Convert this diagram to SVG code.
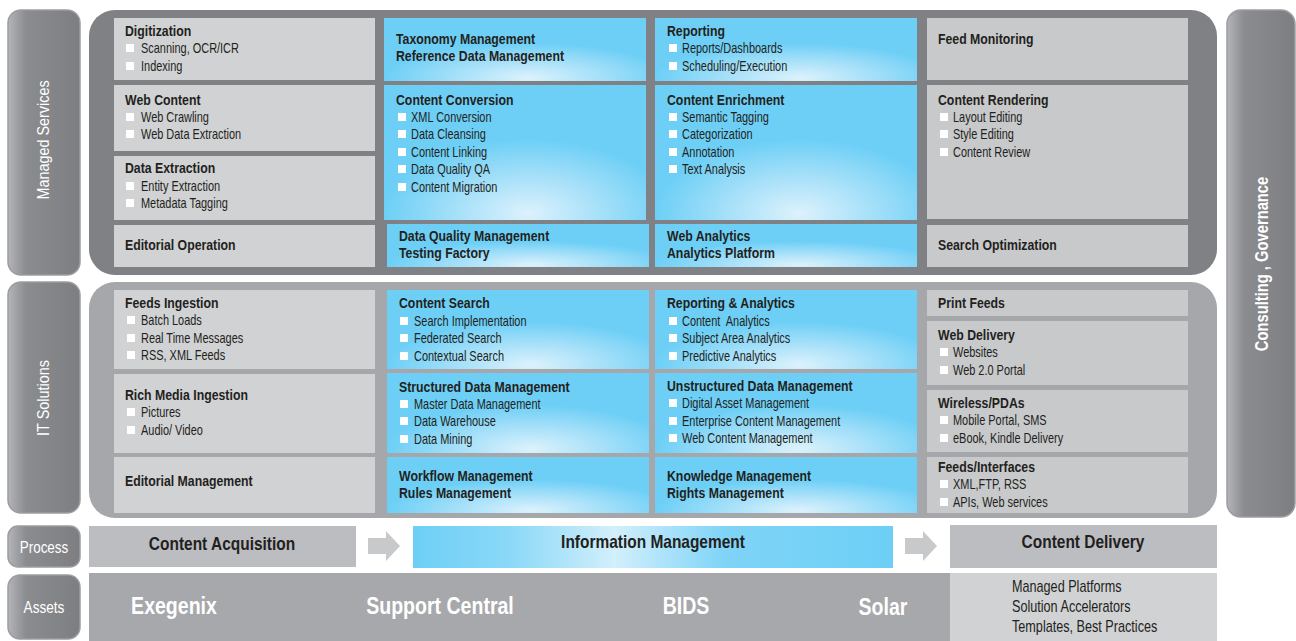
<svg xmlns="http://www.w3.org/2000/svg" width="1296" height="641" viewBox="0 0 1296 641">
<style>
text{font-family:"Liberation Sans",Arial,sans-serif;fill:#231f20}
.h{font-size:15px;font-weight:bold}
.i{font-size:15px}
.g1{fill:#d1d2d4}
.g4{fill:#c8c9cb}
.bl{fill:url(#blue)}
.b{fill:#ffffff}
.lab{fill:#ffffff;font-size:16px}
.asset{fill:#ffffff;font-size:23px;font-weight:bold}
.proc{font-size:18px;font-weight:bold}
.plat{font-size:16px}
.pill{fill:url(#pillg);stroke:#9c9da0;stroke-width:1.5}
.arrow{fill:#c8c9cb}
</style>
<defs>
<radialGradient id="blue" cx="0.55" cy="0.95" r="0.55">
<stop offset="0" stop-color="#dcf2fc"/>
<stop offset="0.5" stop-color="#a6e0f9"/>
<stop offset="1" stop-color="#6dcff6"/>
</radialGradient>
<linearGradient id="pillg" x1="0" y1="0" x2="1" y2="0">
<stop offset="0" stop-color="#b4b5b8"/>
<stop offset="0.25" stop-color="#8b8c8f"/>
<stop offset="1" stop-color="#7d7e81"/>
</linearGradient>
<linearGradient id="infog" x1="0" y1="0" x2="1" y2="0">
<stop offset="0" stop-color="#6dcff6"/>
<stop offset="0.2" stop-color="#8ad8f7"/>
<stop offset="0.42" stop-color="#d2effc"/>
<stop offset="0.65" stop-color="#7fd4f7"/>
<stop offset="1" stop-color="#6dcff6"/>
</linearGradient>
</defs>

<!-- side labels -->
<g id="label-managed"><rect class="pill" x="8" y="10" width="72" height="265" rx="13"/>
<text class="lab" transform="translate(49,140) rotate(-90) scale(0.9,1)" text-anchor="middle">Managed Services</text></g>
<g id="label-it"><rect class="pill" x="8" y="282" width="72" height="231" rx="13"/>
<text class="lab" transform="translate(49,398) rotate(-90) scale(0.9,1)" text-anchor="middle">IT Solutions</text></g>
<g id="label-process"><rect class="pill" x="8" y="526" width="72" height="41" rx="10"/>
<text class="lab" transform="translate(44,553) scale(0.84,1)" text-anchor="middle">Process</text></g>
<g id="label-assets"><rect class="pill" x="8" y="575" width="72" height="64" rx="12"/>
<text class="lab" transform="translate(44,613) scale(0.85,1)" text-anchor="middle">Assets</text></g>
<g id="label-consulting"><rect class="pill" x="1227" y="10" width="68" height="507" rx="14"/>
<text class="lab" transform="translate(1268,264) rotate(-90) scale(0.82,1)" text-anchor="middle" style="font-size:18px;font-weight:bold">Consulting , Governance</text></g>

<!-- panels -->
<g id="panel-managed"><rect x="89" y="10" width="1128" height="265" rx="26" fill="#808184"/></g>
<g id="panel-it"><rect x="89" y="282" width="1128" height="236" rx="26" fill="#a6a7aa"/></g>

<!-- Managed services column 1 -->
<g id="ms-digitization"><rect class="g1" x="114" y="18" width="261" height="62"/>
<text class="h" transform="translate(125,36) scale(0.82,1)">Digitization</text>
<rect class="b" x="126" y="44" width="8" height="8"/><text class="i" transform="translate(141,53) scale(0.73,1)">Scanning, OCR/ICR</text>
<rect class="b" x="126" y="62" width="8" height="8"/><text class="i" transform="translate(141,71) scale(0.73,1)">Indexing</text></g>
<g id="ms-webcontent"><rect class="g1" x="114" y="85" width="261" height="66"/>
<text class="h" transform="translate(125,105) scale(0.82,1)">Web Content</text>
<rect class="b" x="126" y="113" width="8" height="8"/><text class="i" transform="translate(141,122) scale(0.73,1)">Web Crawling</text>
<rect class="b" x="126" y="130" width="8" height="8"/><text class="i" transform="translate(141,139) scale(0.73,1)">Web Data Extraction</text></g>
<g id="ms-dataextraction"><rect class="g1" x="114" y="156" width="261" height="64"/>
<text class="h" transform="translate(125,173) scale(0.82,1)">Data Extraction</text>
<rect class="b" x="126" y="182" width="8" height="8"/><text class="i" transform="translate(141,191) scale(0.73,1)">Entity Extraction</text>
<rect class="b" x="126" y="199" width="8" height="8"/><text class="i" transform="translate(141,208) scale(0.73,1)">Metadata Tagging</text></g>
<g id="ms-editorial"><rect class="g1" x="114" y="225" width="261" height="42"/>
<text class="h" transform="translate(125,250) scale(0.82,1)">Editorial Operation</text></g>

<!-- Managed services column 2 -->
<g id="ms-taxonomy"><rect class="bl" x="384" y="18" width="262" height="63"/>
<text class="h" transform="translate(396,44) scale(0.82,1)">Taxonomy Management</text>
<text class="h" transform="translate(396,61) scale(0.82,1)">Reference Data Management</text></g>
<g id="ms-conversion"><rect class="bl" x="384" y="85" width="262" height="135"/>
<text class="h" transform="translate(396,105) scale(0.82,1)">Content Conversion</text>
<rect class="b" x="398" y="113" width="8" height="8"/><text class="i" transform="translate(411,122) scale(0.73,1)">XML Conversion</text>
<rect class="b" x="398" y="130" width="8" height="8"/><text class="i" transform="translate(411,139) scale(0.73,1)">Data Cleansing</text>
<rect class="b" x="398" y="148" width="8" height="8"/><text class="i" transform="translate(411,157) scale(0.73,1)">Content Linking</text>
<rect class="b" x="398" y="165" width="8" height="8"/><text class="i" transform="translate(411,174) scale(0.73,1)">Data Quality QA</text>
<rect class="b" x="398" y="183" width="8" height="8"/><text class="i" transform="translate(411,192) scale(0.73,1)">Content Migration</text></g>
<g id="ms-dataquality"><rect class="bl" x="387" y="224" width="262" height="43"/>
<text class="h" transform="translate(399,241) scale(0.82,1)">Data Quality Management</text>
<text class="h" transform="translate(399,258) scale(0.82,1)">Testing Factory</text></g>

<!-- Managed services column 3 -->
<g id="ms-reporting"><rect class="bl" x="655" y="18" width="262" height="63"/>
<text class="h" transform="translate(667,36) scale(0.82,1)">Reporting</text>
<rect class="b" x="669" y="44" width="8" height="8"/><text class="i" transform="translate(682,53) scale(0.73,1)">Reports/Dashboards</text>
<rect class="b" x="669" y="62" width="8" height="8"/><text class="i" transform="translate(682,71) scale(0.73,1)">Scheduling/Execution</text></g>
<g id="ms-enrichment"><rect class="bl" x="655" y="85" width="262" height="135"/>
<text class="h" transform="translate(667,105) scale(0.82,1)">Content Enrichment</text>
<rect class="b" x="669" y="113" width="8" height="8"/><text class="i" transform="translate(682,122) scale(0.73,1)">Semantic Tagging</text>
<rect class="b" x="669" y="130" width="8" height="8"/><text class="i" transform="translate(682,139) scale(0.73,1)">Categorization</text>
<rect class="b" x="669" y="148" width="8" height="8"/><text class="i" transform="translate(682,157) scale(0.73,1)">Annotation</text>
<rect class="b" x="669" y="165" width="8" height="8"/><text class="i" transform="translate(682,174) scale(0.73,1)">Text Analysis</text></g>
<g id="ms-webanalytics"><rect class="bl" x="655" y="224" width="262" height="43"/>
<text class="h" transform="translate(667,241) scale(0.82,1)">Web Analytics</text>
<text class="h" transform="translate(667,258) scale(0.82,1)">Analytics Platform</text></g>

<!-- Managed services column 4 -->
<g id="ms-feedmonitoring"><rect class="g4" x="927" y="18" width="261" height="62"/>
<text class="h" transform="translate(938,44) scale(0.82,1)">Feed Monitoring</text></g>
<g id="ms-rendering"><rect class="g4" x="927" y="85" width="261" height="134"/>
<text class="h" transform="translate(938,105) scale(0.82,1)">Content Rendering</text>
<rect class="b" x="940" y="113" width="8" height="8"/><text class="i" transform="translate(953,122) scale(0.73,1)">Layout Editing</text>
<rect class="b" x="940" y="130" width="8" height="8"/><text class="i" transform="translate(953,139) scale(0.73,1)">Style Editing</text>
<rect class="b" x="940" y="148" width="8" height="8"/><text class="i" transform="translate(953,157) scale(0.73,1)">Content Review</text></g>
<g id="ms-searchopt"><rect class="g4" x="927" y="225" width="261" height="42"/>
<text class="h" transform="translate(938,250) scale(0.82,1)">Search Optimization</text></g>

<!-- IT solutions column 1 -->
<g id="it-feeds"><rect class="g1" x="114" y="290" width="261" height="79"/>
<text class="h" transform="translate(125,308) scale(0.82,1)">Feeds Ingestion</text>
<rect class="b" x="127" y="316" width="8" height="8"/><text class="i" transform="translate(141,325) scale(0.73,1)">Batch Loads</text>
<rect class="b" x="127" y="334" width="8" height="8"/><text class="i" transform="translate(141,343) scale(0.73,1)">Real Time Messages</text>
<rect class="b" x="127" y="351" width="8" height="8"/><text class="i" transform="translate(141,360) scale(0.73,1)">RSS, XML Feeds</text></g>
<g id="it-richmedia"><rect class="g1" x="114" y="374" width="261" height="79"/>
<text class="h" transform="translate(125,400) scale(0.82,1)">Rich Media Ingestion</text>
<rect class="b" x="127" y="408" width="8" height="8"/><text class="i" transform="translate(141,417) scale(0.73,1)">Pictures</text>
<rect class="b" x="127" y="426" width="8" height="8"/><text class="i" transform="translate(141,435) scale(0.73,1)">Audio/ Video</text></g>
<g id="it-editorial"><rect class="g1" x="114" y="457" width="261" height="56"/>
<text class="h" transform="translate(125,486) scale(0.82,1)">Editorial Management</text></g>

<!-- IT solutions column 2 -->
<g id="it-search"><rect class="bl" x="387" y="290" width="262" height="79"/>
<text class="h" transform="translate(399,308) scale(0.82,1)">Content Search</text>
<rect class="b" x="400" y="317" width="8" height="8"/><text class="i" transform="translate(414,326) scale(0.73,1)">Search Implementation</text>
<rect class="b" x="400" y="334" width="8" height="8"/><text class="i" transform="translate(414,343) scale(0.73,1)">Federated Search</text>
<rect class="b" x="400" y="352" width="8" height="8"/><text class="i" transform="translate(414,361) scale(0.73,1)">Contextual Search</text></g>
<g id="it-structured"><rect class="bl" x="387" y="373" width="262" height="80"/>
<text class="h" transform="translate(399,392) scale(0.82,1)">Structured Data Management</text>
<rect class="b" x="400" y="400" width="8" height="8"/><text class="i" transform="translate(414,409) scale(0.73,1)">Master Data Management</text>
<rect class="b" x="400" y="417" width="8" height="8"/><text class="i" transform="translate(414,426) scale(0.73,1)">Data Warehouse</text>
<rect class="b" x="400" y="435" width="8" height="8"/><text class="i" transform="translate(414,444) scale(0.73,1)">Data Mining</text></g>
<g id="it-workflow"><rect class="bl" x="387" y="457" width="262" height="56"/>
<text class="h" transform="translate(399,481) scale(0.82,1)">Workflow Management</text>
<text class="h" transform="translate(399,498) scale(0.82,1)">Rules Management</text></g>

<!-- IT solutions column 3 -->
<g id="it-reporting"><rect class="bl" x="655" y="290" width="262" height="79"/>
<text class="h" transform="translate(667,308) scale(0.82,1)">Reporting &amp; Analytics</text>
<rect class="b" x="669" y="317" width="8" height="8"/><text class="i" transform="translate(682,326) scale(0.73,1)" xml:space="preserve">Content  Analytics</text>
<rect class="b" x="669" y="334" width="8" height="8"/><text class="i" transform="translate(682,343) scale(0.73,1)">Subject Area Analytics</text>
<rect class="b" x="669" y="352" width="8" height="8"/><text class="i" transform="translate(682,361) scale(0.73,1)">Predictive Analytics</text></g>
<g id="it-unstructured"><rect class="bl" x="655" y="373" width="262" height="80"/>
<text class="h" transform="translate(667,391) scale(0.82,1)">Unstructured Data Management</text>
<rect class="b" x="669" y="399" width="8" height="8"/><text class="i" transform="translate(682,408) scale(0.73,1)">Digital Asset Management</text>
<rect class="b" x="669" y="417" width="8" height="8"/><text class="i" transform="translate(682,426) scale(0.73,1)">Enterprise Content Management</text>
<rect class="b" x="669" y="434" width="8" height="8"/><text class="i" transform="translate(682,443) scale(0.73,1)">Web Content Management</text></g>
<g id="it-knowledge"><rect class="bl" x="655" y="457" width="262" height="56"/>
<text class="h" transform="translate(667,481) scale(0.82,1)">Knowledge Management</text>
<text class="h" transform="translate(667,498) scale(0.82,1)">Rights Management</text></g>

<!-- IT solutions column 4 -->
<g id="it-print"><rect class="g4" x="927" y="290" width="261" height="26"/>
<text class="h" transform="translate(938,308) scale(0.82,1)">Print Feeds</text></g>
<g id="it-web"><rect class="g4" x="927" y="321" width="261" height="64"/>
<text class="h" transform="translate(938,340) scale(0.82,1)">Web Delivery</text>
<rect class="b" x="940" y="348" width="8" height="8"/><text class="i" transform="translate(953,357) scale(0.73,1)">Websites</text>
<rect class="b" x="940" y="366" width="8" height="8"/><text class="i" transform="translate(953,375) scale(0.73,1)">Web 2.0 Portal</text></g>
<g id="it-wireless"><rect class="g4" x="927" y="390" width="261" height="62"/>
<text class="h" transform="translate(938,408) scale(0.82,1)">Wireless/PDAs</text>
<rect class="b" x="940" y="416" width="8" height="8"/><text class="i" transform="translate(953,425) scale(0.73,1)">Mobile Portal, SMS</text>
<rect class="b" x="940" y="434" width="8" height="8"/><text class="i" transform="translate(953,443) scale(0.73,1)">eBook, Kindle Delivery</text></g>
<g id="it-feedsinterfaces"><rect class="g4" x="927" y="457" width="261" height="56"/>
<text class="h" transform="translate(938,472) scale(0.82,1)">Feeds/Interfaces</text>
<rect class="b" x="940" y="480" width="8" height="8"/><text class="i" transform="translate(953,489) scale(0.73,1)">XML,FTP, RSS</text>
<rect class="b" x="940" y="498" width="8" height="8"/><text class="i" transform="translate(953,507) scale(0.73,1)">APIs, Web services</text></g>

<!-- process row -->
<g id="proc-acquisition"><rect x="89" y="526" width="267" height="41" fill="#bcbdc0"/>
<text class="proc" transform="translate(222,550) scale(0.86,1)" text-anchor="middle">Content Acquisition</text></g>
<g id="proc-information"><rect x="413" y="526" width="480" height="42" fill="url(#infog)"/>
<text class="proc" transform="translate(653,548) scale(0.86,1)" text-anchor="middle">Information Management</text></g>
<g id="proc-delivery"><rect x="950" y="525" width="267" height="43" fill="#bcbdc0"/>
<text class="proc" transform="translate(1083,548) scale(0.86,1)" text-anchor="middle">Content Delivery</text></g>

<g id="connectors">
<polygon class="arrow" points="368,538 386,538 386,531 400,546 386,561 386,554 368,554"/>
<polygon class="arrow" points="905,538 923,538 923,531 937,546 923,561 923,554 905,554"/>
</g>

<!-- assets row -->
<g id="assets-bar"><rect x="89" y="573" width="861" height="68" fill="#a7a8ab"/>
<text class="asset" transform="translate(174,614) scale(0.85,1)" text-anchor="middle">Exegenix</text>
<text class="asset" transform="translate(440,614) scale(0.85,1)" text-anchor="middle">Support Central</text>
<text class="asset" transform="translate(686,614) scale(0.85,1)" text-anchor="middle">BIDS</text>
<text class="asset" transform="translate(883,615) scale(0.85,1)" text-anchor="middle">Solar</text></g>
<g id="assets-platforms"><rect x="950" y="573" width="267" height="68" fill="#d1d2d4"/>
<text class="plat" transform="translate(1012,592) scale(0.79,1)">Managed Platforms</text>
<text class="plat" transform="translate(1012,612) scale(0.79,1)">Solution Accelerators</text>
<text class="plat" transform="translate(1012,632) scale(0.79,1)">Templates, Best Practices</text></g>
</svg>
